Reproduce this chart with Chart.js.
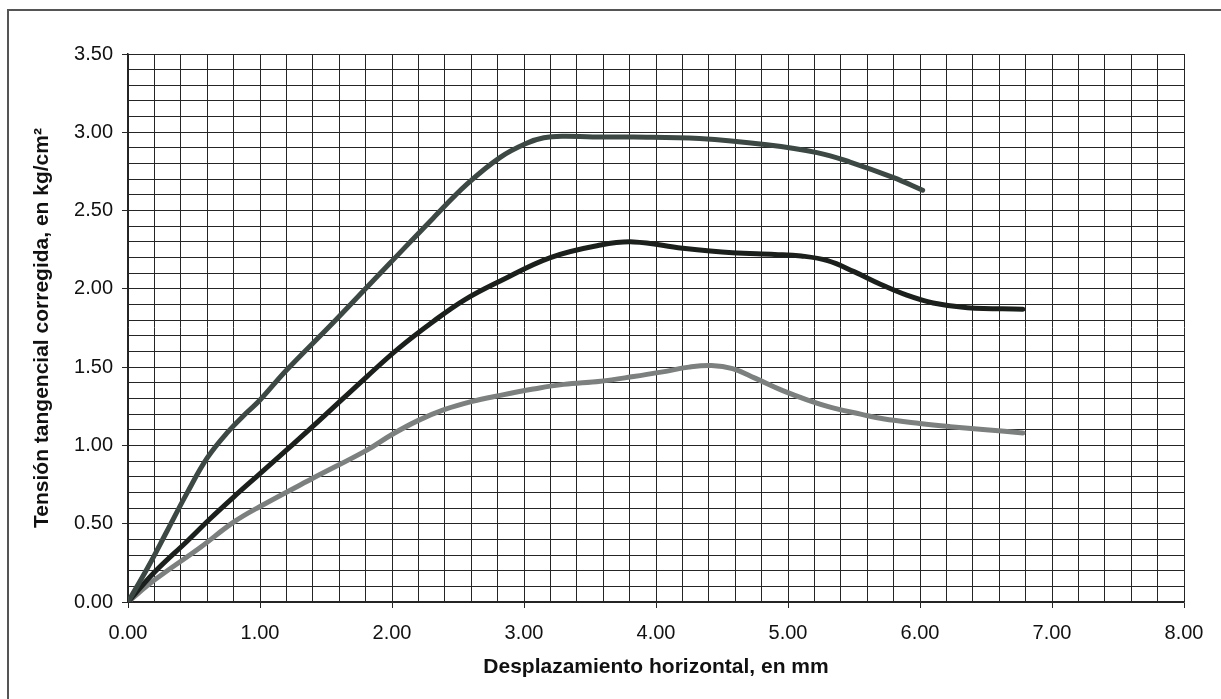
<!DOCTYPE html>
<html>
<head>
<meta charset="utf-8">
<script src="https://cdn.jsdelivr.net/npm/chart.js@4.4.1/dist/chart.umd.min.js"></script>
<style>
  html, body { margin: 0; padding: 0; background: #fff; overflow: hidden; }
  #wrap { position: relative; width: 1221px; height: 699px; }
  #frame { position: absolute; left: 7px; top: 9px; width: 1300px; height: 800px;
           border-left: 2px solid #555; border-top: 2px solid #555; }
  canvas { position: absolute; left: 0; top: 0; }
</style>
</head>
<body>
<div id="wrap">
  <div id="frame"></div>
  <canvas id="c" width="1221" height="699"></canvas>
</div>
<script>
// ---- data ----
const topX = [0, 0.15, 0.3, 0.45, 0.6, 0.75, 0.9, 1.0, 1.2, 1.55, 1.81, 1.98, 2.31, 2.57, 2.82, 3.02, 3.15, 3.3, 3.52, 3.83, 4.33, 4.84, 5.22, 5.47, 5.8, 6.02];
const topY = [0, 0.22, 0.46, 0.70, 0.92, 1.08, 1.21, 1.29, 1.48, 1.78, 2.01, 2.16, 2.45, 2.67, 2.84, 2.93, 2.965, 2.975, 2.97, 2.97, 2.96, 2.92, 2.87, 2.81, 2.71, 2.63];

const midX = [0, 0.2, 0.45, 0.62, 0.8, 1.0, 1.2, 1.45, 1.81, 2.05, 2.31, 2.55, 2.82, 3.2, 3.58, 3.83, 4.2, 4.58, 4.9, 5.1, 5.3, 5.5, 5.7, 5.9, 6.1, 6.36, 6.78];
const midY = [0, 0.19, 0.39, 0.53, 0.67, 0.82, 0.97, 1.16, 1.44, 1.62, 1.79, 1.93, 2.05, 2.20, 2.28, 2.30, 2.26, 2.23, 2.22, 2.21, 2.18, 2.11, 2.03, 1.96, 1.91, 1.88, 1.87];

const lowX = [0, 0.2, 0.55, 0.8, 1.0, 1.4, 1.81, 2.0, 2.2, 2.4, 2.6, 2.82, 3.07, 3.3, 3.58, 3.83, 4.05, 4.25, 4.42, 4.58, 4.75, 4.96, 5.15, 5.34, 5.55, 5.72, 6.0, 6.23, 6.5, 6.78];
const lowY = [0, 0.14, 0.35, 0.51, 0.61, 0.79, 0.97, 1.07, 1.16, 1.23, 1.28, 1.32, 1.36, 1.39, 1.41, 1.44, 1.47, 1.50, 1.51, 1.49, 1.43, 1.35, 1.29, 1.24, 1.20, 1.17, 1.14, 1.12, 1.10, 1.08];

const xTitle = 'Desplazamiento horizontal, en mm';
const yTitle = 'Tensión tangencial corregida, en kg/cm²';
const xMin = 0, xMax = 8, xStep = 0.2, xLabelEvery = 1;
const yMin = 0, yMax = 3.5, yStep = 0.1, yLabelEvery = 0.5;

function pts(xs, ys) { return xs.map((x, i) => ({ x: x, y: ys[i] })); }
function isMult(v, m) { const r = v / m; return Math.abs(r - Math.round(r)) < 1e-6; }

const FONT = "'Liberation Sans', Arial, sans-serif";
const gridCol = '#252525';

new Chart(document.getElementById('c'), {
  type: 'scatter',
  data: {
    datasets: [
      { data: pts(topX, topY), borderColor: '#3b4843' },
      { data: pts(midX, midY), borderColor: '#1b201d' },
      { data: pts(lowX, lowY), borderColor: '#7c807e' }
    ].map(d => Object.assign(d, {
      showLine: true, pointRadius: 0, borderWidth: 5, tension: 0.4,
      borderCapStyle: 'round', borderJoinStyle: 'round', fill: false
    }))
  },
  options: {
    responsive: false,
    animation: false,
    layout: { padding: { left: 0, right: 37, top: 54, bottom: 0 } },
    plugins: { legend: { display: false }, tooltip: { enabled: false } },
    scales: {
      x: {
        type: 'linear', min: xMin, max: xMax,
        afterFit: s => { s.height = 97; },
        ticks: {
          stepSize: xStep, autoSkip: false, maxTicksLimit: 200, maxRotation: 0, padding: 13,
          color: '#111', font: { family: FONT, size: 20 },
          callback: v => isMult(v, xLabelEvery) ? v.toFixed(2) : ''
        },
        grid: {
          color: gridCol, lineWidth: 1, tickLength: 6,
          tickColor: ctx => (ctx.tick && isMult(ctx.tick.value, xLabelEvery)) ? gridCol : 'rgba(0,0,0,0)'
        },
        border: { display: true, color: gridCol, width: 1.5 },
        title: { display: true, text: xTitle, color: '#111',
                 font: { family: FONT, size: 21, weight: 'bold' }, padding: { top: 0, bottom: 19 } }
      },
      y: {
        type: 'linear', min: yMin, max: yMax,
        afterFit: s => { s.width = 128; },
        ticks: {
          stepSize: yStep, autoSkip: false, maxTicksLimit: 200, padding: 9,
          color: '#111', font: { family: FONT, size: 20 },
          callback: v => isMult(v, yLabelEvery) ? v.toFixed(2) : ''
        },
        grid: {
          color: gridCol, lineWidth: 1, tickLength: 6,
          tickColor: ctx => (ctx.tick && isMult(ctx.tick.value, yLabelEvery)) ? gridCol : 'rgba(0,0,0,0)'
        },
        border: { display: true, color: gridCol, width: 1.5 },
        title: { display: true, text: yTitle, color: '#111',
                 font: { family: FONT, size: 21, weight: 'bold' }, padding: { top: 30, bottom: 0 } }
      }
    }
  }
});
</script>
</body>
</html>
